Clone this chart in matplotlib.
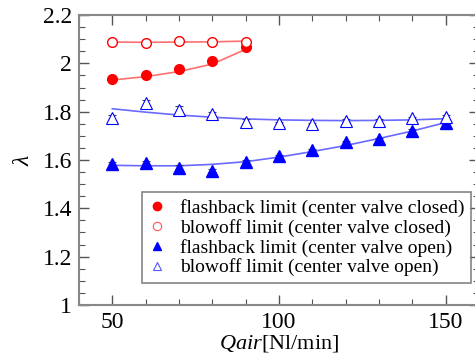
import numpy as np
import matplotlib
matplotlib.use('Agg')
import matplotlib.pyplot as plt
from matplotlib.ticker import MultipleLocator
from matplotlib.lines import Line2D

plt.rcParams['font.family'] = ['Liberation Serif', 'DejaVu Serif']
plt.rcParams['mathtext.fontset'] = 'custom'
plt.rcParams['mathtext.it'] = 'Liberation Serif:italic'
plt.rcParams['mathtext.rm'] = 'Liberation Serif'

# measured points
q_closed = [50, 60, 70, 80, 90]
fb_closed = [1.934, 1.952, 1.977, 2.010, 2.067]
bo_closed = [2.090, 2.084, 2.091, 2.087, 2.090]

q_open = [50, 60, 70, 80, 90, 100, 110, 120, 130, 140, 150]
fb_open = [1.582, 1.588, 1.568, 1.556, 1.593, 1.615, 1.641, 1.673, 1.686, 1.721, 1.752]
bo_open = [1.775, 1.836, 1.805, 1.789, 1.756, 1.752, 1.749, 1.763, 1.763, 1.772, 1.776]

# error bars
err_fb_closed = [0.008, 0.006, 0.006, 0.006, 0.010]
err_bo_closed = [0.006, 0.005, 0.006, 0.005, 0.006]
err_fb_open = [0.008, 0.006, 0.010, 0.006, 0.006, 0.006, 0.006, 0.006, 0.006, 0.008, 0.008]
err_bo_open = [0.010, 0.012, 0.018, 0.008, 0.014, 0.006, 0.006, 0.006, 0.008, 0.008, 0.010]

# fitted curves
fit_fb_closed = [1.931, 1.945, 1.966, 1.997, 2.058]
fit_bo_closed = [2.088, 2.087, 2.088, 2.089, 2.092]
fit_fb_open = [1.578, 1.576, 1.576, 1.582, 1.593, 1.612, 1.635, 1.660, 1.689, 1.720, 1.755]
fit_bo_open = [1.812, 1.798, 1.786, 1.777, 1.770, 1.766, 1.764, 1.763, 1.764, 1.766, 1.771]

labels = ['flashback limit (center valve closed)',
          'blowoff limit (center valve closed)',
          'flashback limit (center valve open)',
          'blowoff limit (center valve open)']

fig = plt.figure(figsize=(4.75, 3.62), dpi=100)
ax = fig.add_axes([79/475, 1 - 305/362, 400/475, 290/362])

red_line = '#ff6f6f'
blue_line = '#6a6aff'
ax.plot(q_closed, fit_fb_closed, color=red_line, lw=1.2, zorder=2)
ax.plot(q_closed, fit_bo_closed, color=red_line, lw=1.2, zorder=2)
ax.plot(q_open, fit_fb_open, color=blue_line, lw=1.2, zorder=2)
ax.plot(q_open, fit_bo_open, color=blue_line, lw=1.2, zorder=2)

ebkw = dict(ecolor='#444444', elinewidth=0.8, capsize=3, capthick=0.8, linestyle='none', zorder=3)
ax.errorbar(q_closed, fb_closed, yerr=err_fb_closed, marker='o', ms=7, mfc='red', mec='red', **ebkw)
ax.errorbar(q_closed, bo_closed, yerr=err_bo_closed, marker='o', ms=7, mfc='white', mec='red', mew=1.0, **ebkw)
ax.errorbar(q_open, fb_open, yerr=err_fb_open, marker='^', ms=8, mfc='blue', mec='blue', **ebkw)
ax.errorbar(q_open, bo_open, yerr=err_bo_open, marker='^', ms=8, mfc='white', mec='blue', mew=0.8, **ebkw)

ax.set_xlim(40, 160)
ax.set_ylim(1, 2.2)
ax.xaxis.set_major_locator(MultipleLocator(50))
ax.xaxis.set_minor_locator(MultipleLocator(10))
ax.yaxis.set_minor_locator(MultipleLocator(0.05))
ax.set_yticks([1, 1.2, 1.4, 1.6, 1.8, 2, 2.2])
ax.set_yticklabels(['1', '1.2', '1.4', '1.6', '1.8', '2', '2.2'])
ax.tick_params(which='both', direction='in', top=True, right=True, color='#555555', labelsize=17)
ax.tick_params(which='major', length=7, width=1.0, pad=5)
ax.tick_params(which='minor', length=4, width=0.8)
for s in ax.spines.values():
    s.set_color('#888888')
    s.set_linewidth(1.5)

ax.set_xlabel(r'$Qair$' + '[Nl/min]', fontsize=16, labelpad=0)
ax.set_ylabel(r'$\lambda$', fontsize=17, labelpad=6)

handles = [
    Line2D([], [], ls='none', marker='o', ms=6, mfc='red', mec='red'),
    Line2D([], [], ls='none', marker='o', ms=6, mfc='white', mec='#ff5555', mew=0.8),
    Line2D([], [], ls='none', marker='^', ms=6, mfc='blue', mec='blue'),
    Line2D([], [], ls='none', marker='^', ms=6, mfc='white', mec='#5555ff', mew=0.8),
]
leg = ax.legend(handles, labels, loc='upper left', bbox_to_anchor=(63/400, 1 - 177/290),
                fontsize=14, frameon=True, fancybox=False, handlelength=0.8,
                handletextpad=0.8, borderpad=0.35, labelspacing=0.1, borderaxespad=0)
leg.get_frame().set_edgecolor('#666666')
leg.get_frame().set_linewidth(1.2)

fig.savefig('out.png', dpi=100)
